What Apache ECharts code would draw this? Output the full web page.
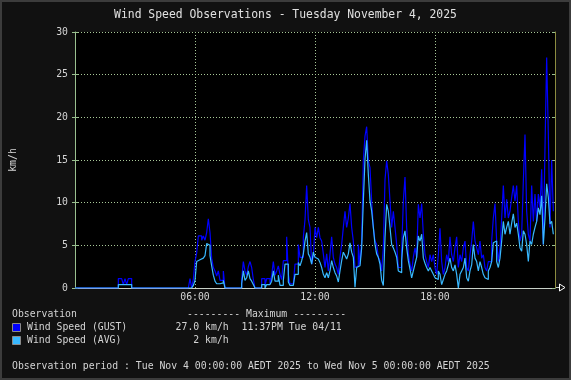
<!DOCTYPE html>
<html><head><meta charset="utf-8">
<script src="https://cdn.jsdelivr.net/npm/echarts@6/dist/echarts.min.js"></script>
<style>html,body{margin:0;padding:0;background:#111;}#c{width:571px;height:380px;}</style>
</head><body><div id="c"></div>
<script>
const chartTitle = 'Wind Speed Observations - Tuesday November 4, 2025';
const yUnit = 'km/h';
const xTickLabels = ['', '06:00', '12:00', '18:00', ''];
const sampleMinutes = 5;
const seriesNames = ['Wind Speed (GUST)', 'Wind Speed (AVG)'];
const seriesColors = ['#0000ff', '#38b8ff'];
const maxValues = ['27.0 km/h', '2 km/h'];
const maxTimes = ['11:37PM Tue 04/11', ''];
const legendHeader = ['Observation', '--------- Maximum ---------'];
const periodText = 'Observation period : Tue Nov 4 00:00:00 AEDT 2025 to Wed Nov 5 00:00:00 AEDT 2025';

const gust = [
0,0,0,0,0,0,0,0,0,0,0,0,0,0,0,0,0,0,0,0,0,0,0,0,0,0,
1.1,1.1,1.1,0.4,1.1,0.4,1.1,1.1,
0,0,0,0,0,0,0,0,0,0,0,0,0,0,0,0,0,0,0,0,0,0,0,0,0,0,0,0,0,0,0,0,0,0,0,
1.1,0,1.0,3.1,4.1,6.1,6.1,5.6,6.1,5.6,6.5,8.1,6.5,3.5,2.4,2.0,1.4,2.0,0.9,0.9,2.0,
0,0,0,0,0,0,0,0,0,0,
1.0,3.1,2.0,1.5,2.5,3.1,2.4,1.0,
0,0,0,0,
1.1,1.1,0.3,1.1,1.1,0.5,1.5,3.1,1.5,2.0,2.6,
1.6,1.0,3.2,3.2,6.0,1.6,0.5,0.5,0.5,2.8,
2.8,5.1,3.6,3.6,5.9,8.0,12.0,8.0,7.1,2.8,
3.8,7.1,5.9,7.1,5.9,5.5,4.0,2.4,4.0,2.0,
4.0,6.0,3.6,2.8,2.4,1.6,3.6,5.1,7.1,9.0,
7.1,8.2,9.9,7.1,5.5,2.4,2.6,5.1,2.8,5.5,
14.9,17.8,18.9,14.9,14.1,10.2,7.1,5.5,5.1,3.6,
3.2,2.0,4.7,12.7,14.9,13.3,10.2,7.1,9.0,7.1,
5.1,2.4,2.4,4.4,10.2,13.0,7.1,4.0,2.8,2.0,
3.6,4.7,3.6,9.8,
8.2,9.9,6.3,3.9,3.1,2.4,3.9,3.1,3.9,2.4,
1.6,3.9,7.0,3.1,1.6,2.4,3.9,3.1,6.0,3.9,
3.1,4.7,6.0,2.4,3.9,3.1,4.7,5.5,2.4,2.0,
3.9,5.5,7.8,5.5,4.7,3.9,5.5,3.5,3.9,2.4,
2.0,3.1,3.1,5.5,8.2,9.9,5.5,3.1,4.7,8.2,
12.0,8.2,10.4,8.2,9.0,10.6,12.0,10.2,12.0,7.8,
5.5,6.3,12.5,18.0,9.0,6.3,5.5,12.0,7.8,11.0,
7.8,11.0,9.4,13.9,5.1,16.5,27.0,18.0,7.1,15.0,
9.0
];

const avg = [
0,0,0,0,0,0,0,0,0,0,0,0,0,0,0,0,0,0,0,0,0,0,0,0,0,0,
0.4,0.4,0.4,0.4,0.4,0.4,0.4,0.4,
0,0,0,0,0,0,0,0,0,0,0,0,0,0,0,0,0,0,0,0,0,0,0,0,0,0,0,0,0,0,0,0,0,0,0,
0,0,0.3,0.9,3.1,3.3,3.3,3.5,3.7,3.8,5.2,5.0,3.8,2.6,1.5,0.8,0.5,0.5,0.5,0.6,0.9,
0,0,0,0,0,0,0,0,0,0,
0.5,2.0,0.9,1.2,2.0,1.1,0.8,0.4,
0,0,0,0,
0.4,0.4,0,0.4,0.4,0.2,0.8,2.0,0.8,0.8,1.5,
0.3,0.3,0.9,2.8,2.8,0.7,0.3,0.3,0.3,1.6,
1.6,3.0,2.6,3.2,4.0,5.5,6.5,4.0,3.6,2.8,
4.2,3.6,3.4,3.2,3.0,2.4,1.6,1.2,1.8,1.2,
2.0,3.2,2.4,1.8,1.4,0.7,2.0,3.2,4.2,3.8,
3.4,4.0,5.3,4.2,3.6,0.1,2.4,2.6,2.6,4.7,
10.2,15.1,17.3,13.3,10.2,9.0,7.1,5.1,4.0,3.6,
2.8,0.9,0.3,5.9,9.8,9.0,7.1,5.1,4.7,4.2,
3.6,2.0,1.8,3.2,5.9,6.7,4.7,3.2,2.2,1.2,
2.0,2.8,3.6,6.1,
5.5,6.3,3.5,2.9,2.4,2.0,2.4,2.0,1.6,1.2,
1.0,2.0,1.6,0.4,1.0,1.6,2.0,2.7,3.5,2.4,
2.0,2.7,1.6,0.0,1.6,2.0,2.4,3.5,1.2,0.8,
2.0,2.7,5.1,3.5,3.1,2.0,3.1,2.4,1.6,1.2,
1.0,2.0,2.4,3.1,5.3,5.5,3.1,2.4,3.5,5.5,
7.8,6.3,7.1,7.8,6.3,7.6,8.7,7.1,7.6,6.3,
4.7,4.3,6.7,6.3,5.1,3.1,5.5,5.1,6.3,7.1,
7.8,9.4,8.6,10.8,5.1,8.2,12.2,10.6,7.5,7.8,
6.3
];

const FONT = 'DejaVu Sans Mono';
const TXT = '#d4d4d4';
const GRID_C = '#a8c898';
const AXIS_C = '#99c08f';

const toPairs = arr => arr.map((v, i) => [i * sampleMinutes, v]);

function txt(x, y, s, extra) {
  return Object.assign({
    type: 'text', x: x, y: y, silent: true,
    style: { text: s, fill: TXT, fontFamily: FONT, fontSize: 9.8,
      align: 'left', verticalAlign: 'middle', textAlign: 'left', textVerticalAlign: 'middle' }
  }, extra || {});
}

const chart = echarts.init(document.getElementById('c'), null, { renderer: 'canvas' });
const rowY = [327.5, 340.5];
const graphics = [
  { type: 'rect', shape: { x: 1, y: 1, width: 569, height: 378 }, style: { fill: 'none', stroke: '#3c3c3c', lineWidth: 2 }, silent: true },
  { type: 'text', x: 285.5, y: 15.5, silent: true,
    style: { text: chartTitle, fill: '#e0e0e0', fontFamily: FONT, fontSize: 11.4,
      align: 'center', verticalAlign: 'middle', textAlign: 'center', textVerticalAlign: 'middle' } },
  { type: 'polyline', shape: { points: [[555, 287.5], [559, 287.5]] }, style: { stroke: '#c8d0c8', lineWidth: 1 }, silent: true },
  { type: 'polygon', shape: { points: [[559.5, 284], [565, 287.5], [559.5, 291]] }, style: { fill: 'none', stroke: '#ffffff', lineWidth: 1 }, silent: true },
  txt(12, 314, legendHeader[0]),
  txt(187, 314, legendHeader[1]),
  txt(12, 366.5, periodText)
];
seriesNames.forEach((n, i) => {
  graphics.push({ type: 'rect', shape: { x: 12.5, y: rowY[i] - 4, width: 8, height: 8 },
    style: { fill: seriesColors[i], stroke: '#8a8a8a', lineWidth: 1 }, silent: true });
  graphics.push(txt(27, rowY[i], n));
  graphics.push(txt(228.7, rowY[i], maxValues[i], {
    style: { text: maxValues[i], fill: TXT, fontFamily: FONT, fontSize: 9.8,
      align: 'right', verticalAlign: 'middle', textAlign: 'right', textVerticalAlign: 'middle' } }));
  if (maxTimes[i]) graphics.push(txt(241.5, rowY[i], maxTimes[i]));
});

const yBase = { type: 'value', min: 0, max: 30, interval: 5 };
chart.setOption({
  animation: false,
  backgroundColor: '#111111',
  grid: { left: 75, top: 32, width: 480, height: 256, show: true, backgroundColor: '#000000', borderWidth: 0 },
  xAxis: {
    type: 'value', min: 0, max: 1440, interval: 360,
    axisLine: { show: true, onZero: false, lineStyle: { color: '#c8d0c8', width: 1 } },
    axisTick: { show: false },
    axisLabel: { color: TXT, fontFamily: FONT, fontSize: 9.8, margin: 4,
      formatter: v => xTickLabels[Math.round(v / 360)] },
    splitLine: { show: true, lineStyle: { color: GRID_C, type: [1, 2], width: 1 } }
  },
  yAxis: [
    Object.assign({}, yBase, {
      position: 'left', name: yUnit, nameLocation: 'middle', nameGap: 57, nameRotate: 90,
      nameTextStyle: { color: TXT, fontFamily: FONT, fontSize: 9.8 },
      axisLine: { show: true, lineStyle: { color: AXIS_C } },
      axisTick: { show: true, length: 3, lineStyle: { color: AXIS_C } },
      axisLabel: { color: TXT, fontFamily: FONT, fontSize: 9.8, margin: 7 },
      splitLine: { show: true, lineStyle: { color: GRID_C, type: [1, 2], width: 1 } }
    }),
    Object.assign({}, yBase, {
      position: 'left', offset: 0,
      axisLine: { show: false }, axisTick: { show: true, inside: true, length: 3, lineStyle: { color: AXIS_C } },
      axisLabel: { show: false }, splitLine: { show: false }
    }),
    Object.assign({}, yBase, {
      position: 'right', offset: 0,
      axisLine: { show: true, lineStyle: { color: '#8c8c40' } },
      axisTick: { show: true, inside: true, length: 3, lineStyle: { color: AXIS_C } },
      axisLabel: { show: false }, splitLine: { show: false }
    })
  ],
  series: [
    { name: seriesNames[0], type: 'line', step: 'end', showSymbol: false, symbol: 'none',
      data: toPairs(gust), lineStyle: { color: seriesColors[0], width: 1.2 }, itemStyle: { color: seriesColors[0] } },
    { name: seriesNames[1], type: 'line', step: 'end', showSymbol: false, symbol: 'none',
      data: toPairs(avg), lineStyle: { color: seriesColors[1], width: 1.2 }, itemStyle: { color: seriesColors[1] } }
  ],
  graphic: graphics
});
</script></body></html>
